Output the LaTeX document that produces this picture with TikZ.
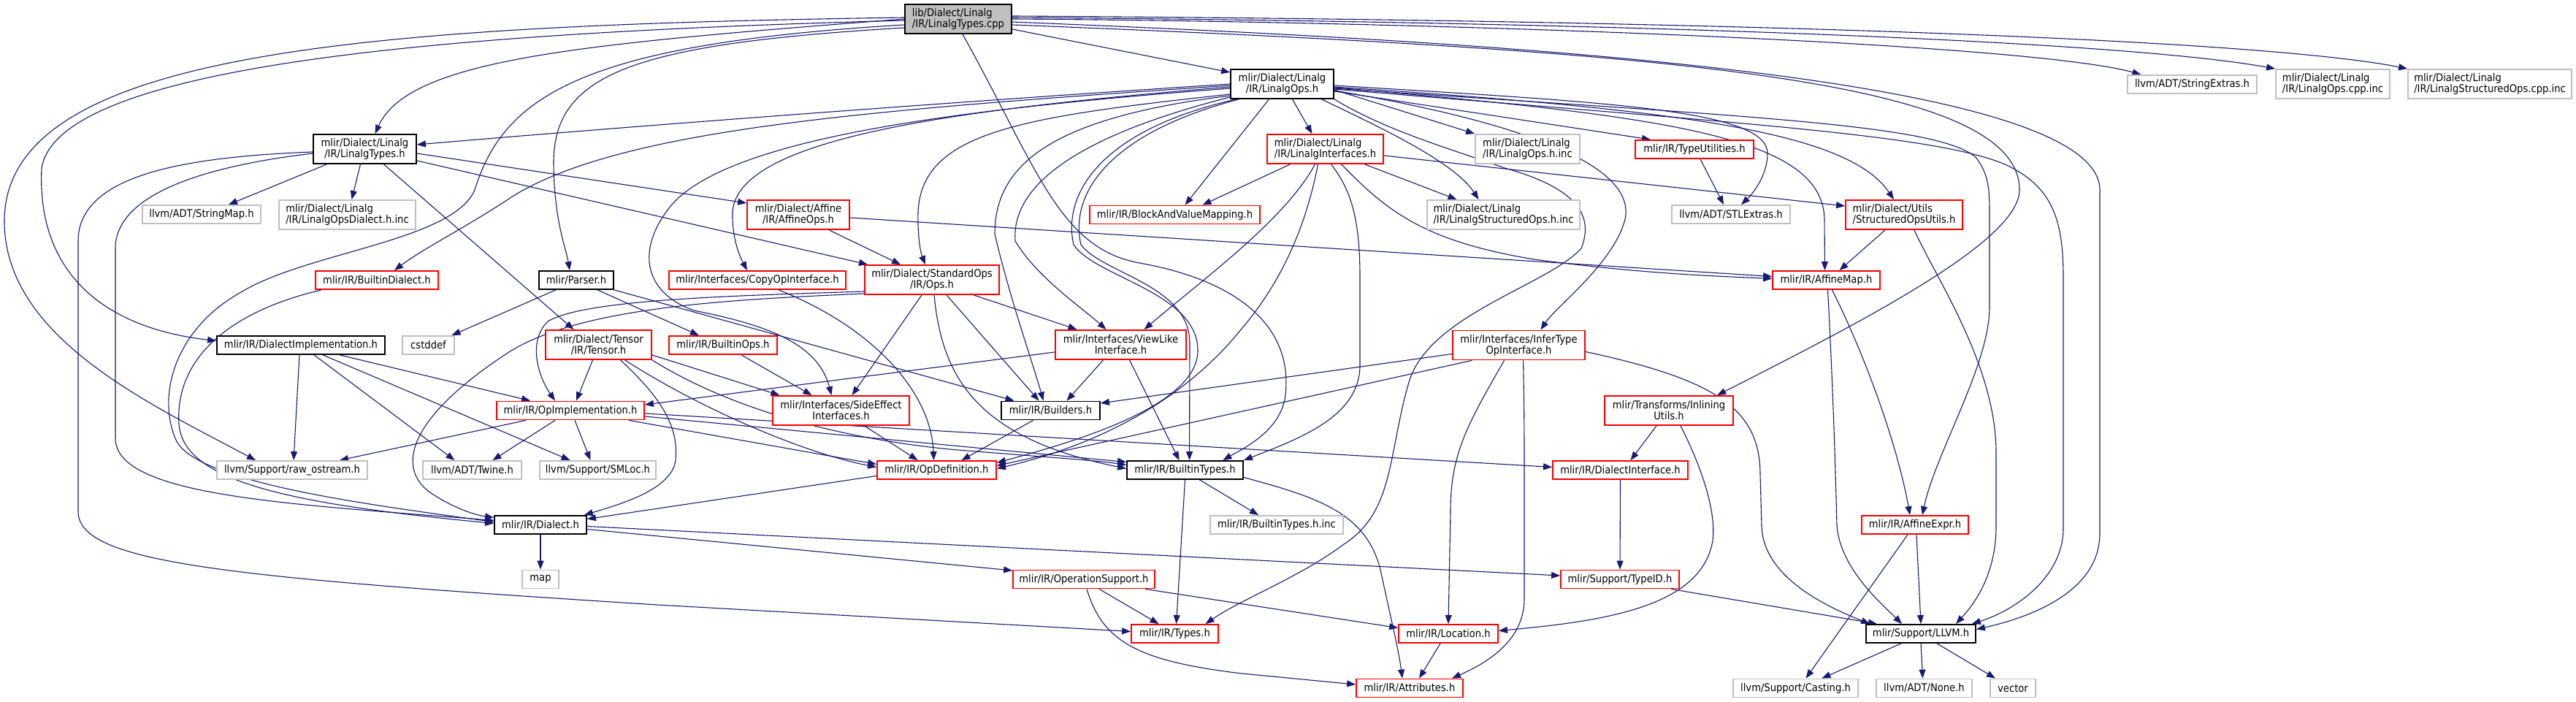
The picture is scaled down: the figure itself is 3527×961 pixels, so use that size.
\documentclass[tikz,border=0pt]{standalone}
\usepackage{fontspec}
\setmainfont{DejaVu Sans Condensed}
\usetikzlibrary{arrows.meta}
\definecolor{edgec}{HTML}{191970}
\definecolor{grayc}{HTML}{BFBFBF}
\definecolor{redc}{HTML}{FF0000}
\pgfdeclarelayer{bg}
\pgfsetlayers{bg,main}
\begin{document}
\begin{tikzpicture}[x=0.5pt,y=-0.5pt,
  nb/.style={draw, line width=0.9pt, inner sep=0pt, align=center, fill=white, font=\fontsize{7.3}{7.5}\selectfont},
  sz/.style 2 args={minimum width=#1pt, minimum height=#2pt},
  rednode/.style={nb, draw=redc},
  graynode/.style={nb, draw=grayc},
  blacknode/.style={nb, draw=black},
  rootnode/.style={nb, draw=black, fill=grayc},
  e/.style={draw=edgec, line width=0.55pt, -{Triangle[length=6pt,width=4.5pt]}}]
\useasboundingbox (0,0) rectangle (3527,961);
% nodes
\node[rootnode, align=left, sz={73}{20}] (cpp) at (1312,26) {lib/Dialect/Linalg\\/IR/LinalgTypes.cpp};
\node[blacknode, sz={70.5}{20}] (ops) at (1755.5,115) {mlir/Dialect/Linalg\\/IR/LinalgOps.h};
\node[graynode, sz={88.5}{12.5}] (strext) at (3001.5,115.5) {llvm/ADT/StringExtras.h};
\node[graynode, align=left, sz={78}{20}] (opscppinc) at (3194,115) {mlir/Dialect/Linalg\\/IR/LinalgOps.cpp.inc};
\node[graynode, align=left, sz={112}{20}] (structcppinc) at (3409,115) {mlir/Dialect/Linalg\\/IR/LinalgStructuredOps.cpp.inc};
\node[blacknode, sz={70.5}{20}] (types) at (499.5,204) {mlir/Dialect/Linalg\\/IR/LinalgTypes.h};
\node[rednode, align=left, sz={79.5}{20}] (interfaces) at (1814.5,204) {mlir/Dialect/Linalg\\/IR/LinalgInterfaces.h};
\node[graynode, align=left, sz={71.5}{20}] (opsinc) at (2091.5,204) {mlir/Dialect/Linalg\\/IR/LinalgOps.h.inc};
\node[rednode, sz={81}{12.5}] (typeutil) at (2320,204.5) {mlir/IR/TypeUtilities.h};
\node[graynode, sz={81}{12.5}] (stringmap) at (276,293.5) {llvm/ADT/StringMap.h};
\node[graynode, align=left, sz={93.5}{20}] (dialectinc) at (475.5,294) {mlir/Dialect/Linalg\\/IR/LinalgOpsDialect.h.inc};
\node[rednode, sz={70}{20}] (affineops) at (1093,294) {mlir/Dialect/Affine\\/IR/AffineOps.h};
\node[rednode, sz={116.5}{12.5}] (bvm) at (1608.5,294) {mlir/IR/BlockAndValueMapping.h};
\node[graynode, align=left, sz={104.5}{20}] (structinc) at (2058.5,294) {mlir/Dialect/Linalg\\/IR/LinalgStructuredOps.h.inc};
\node[graynode, sz={81}{12.5}] (stlextras) at (2370,293.5) {llvm/ADT/STLExtras.h};
\node[rednode, align=left, sz={80}{20}] (soutils) at (2607,294) {mlir/Dialect/Utils\\/StructuredOpsUtils.h};
\node[rednode, sz={84}{12.5}] (builtindialect) at (516,383.5) {mlir/IR/BuiltinDialect.h};
\node[blacknode, sz={51}{12.5}] (parser) at (789,383.5) {mlir/Parser.h};
\node[rednode, sz={121}{12.5}] (copyop) at (1037,383.5) {mlir/Interfaces/CopyOpInterface.h};
\node[rednode, sz={92}{20}] (stdops) at (1276,383) {mlir/Dialect/StandardOps\\/IR/Ops.h};
\node[rednode, sz={73.5}{12.5}] (affinemap) at (2500.5,383.5) {mlir/IR/AffineMap.h};
\node[blacknode, sz={115}{12.5}] (dialectimpl) at (412,472.5) {mlir/IR/DialectImplementation.h};
\node[graynode, sz={35.5}{12.5}] (cstddef) at (586.5,472.5) {cstddef};
\node[rednode, sz={72.5}{20}] (tensor) at (819.5,472) {mlir/Dialect/Tensor\\/IR/Tensor.h};
\node[rednode, sz={74}{12.5}] (builtinops) at (990,472.5) {mlir/IR/BuiltinOps.h};
\node[rednode, sz={89.5}{20}] (viewlike) at (1534.5,472) {mlir/Interfaces/ViewLike\\Interface.h};
\node[rednode, sz={90.5}{20}] (infertype) at (2079.5,472.5) {mlir/Interfaces/InferType\\OpInterface.h};
\node[rednode, sz={101}{12.5}] (opimpl) at (781,562) {mlir/IR/OpImplementation.h};
\node[rednode, sz={93.5}{20}] (sideeffect) at (1151.5,562) {mlir/Interfaces/SideEffect\\Interfaces.h};
\node[blacknode, sz={67.5}{12.5}] (builders) at (1438.5,562) {mlir/IR/Builders.h};
\node[rednode, sz={88}{20}] (inlining) at (2285,562) {mlir/Transforms/Inlining\\Utils.h};
\node[graynode, sz={103}{12.5}] (rawostream) at (400,643.5) {llvm/Support/raw\_ostream.h};
\node[graynode, sz={67.5}{12.5}] (twine) at (646.5,643.5) {llvm/ADT/Twine.h};
\node[graynode, sz={79.5}{12.5}] (smloc) at (818.5,643.5) {llvm/Support/SMLoc.h};
\node[rednode, sz={81.5}{12.5}] (opdef) at (1282.5,643.5) {mlir/IR/OpDefinition.h};
\node[blacknode, sz={79.5}{12.5}] (builtintypes) at (1622.5,643.5) {mlir/IR/BuiltinTypes.h};
\node[rednode, sz={92.5}{12.5}] (dialectiface) at (2218.5,643.5) {mlir/IR/DialectInterface.h};
\node[blacknode, sz={63}{12.5}] (dialect) at (740,718.5) {mlir/IR/Dialect.h};
\node[graynode, sz={91}{12.5}] (builtintypesinc) at (1748,718.5) {mlir/IR/BuiltinTypes.h.inc};
\node[rednode, sz={73}{12.5}] (affineexpr) at (2622,718.5) {mlir/IR/AffineExpr.h};
\node[graynode, sz={25}{12.5}] (map) at (740,793) {map};
\node[rednode, sz={97}{12.5}] (opsupport) at (1484,793) {mlir/IR/OperationSupport.h};
\node[rednode, sz={81}{12.5}] (typeid) at (2218,793) {mlir/Support/TypeID.h};
\node[rednode, sz={59.5}{12.5}] (typesh) at (1608.5,867.5) {mlir/IR/Types.h};
\node[rednode, sz={68}{12.5}] (location) at (1983,867.5) {mlir/IR/Location.h};
\node[blacknode, sz={75}{12.5}] (llvm) at (2630,867.5) {mlir/Support/LLVM.h};
\node[rednode, sz={73}{12.5}] (attributes) at (1930,942) {mlir/IR/Attributes.h};
\node[graynode, sz={85.5}{12.5}] (casting) at (2458.5,942) {llvm/Support/Casting.h};
\node[graynode, sz={65.5}{12.5}] (none) at (2634.5,942) {llvm/ADT/None.h};
\node[graynode, sz={31}{12.5}] (vector) at (2756,942) {vector};
\begin{pgfonlayer}{bg}
\fill[white] (0,0) rectangle (3527,961);
% from LinalgTypes.cpp
\draw[e] (cpp.west) .. controls (800,60) and (560,80) .. ([xshift=7pt]types.north);
\draw[e] ([yshift=-1pt]cpp.west) .. controls (600,45) and (80,90) .. (57,230) .. controls (50,380) and (150,450) .. ([yshift=3pt]dialectimpl.west);
\draw[e] ([yshift=1pt]cpp.west) .. controls (500,35) and (10,70) .. (6,300) .. controls (4,460) and (200,550) .. ([xshift=-25pt]rawostream.north);
\draw[e] ([yshift=-6pt]cpp.west) .. controls (870,60) and (760,100) .. (758,220) .. controls (758,300) and (775,340) .. ([xshift=-4.5pt]parser.north);
\draw[e] ([yshift=-4pt]cpp.west) .. controls (800,60) and (690,130) .. (650,260) .. controls (620,330) and (420,345) .. (330,400) .. controls (240,450) and (215,540) .. (240,600) .. controls (262,660) and (500,690) .. ([yshift=2pt]dialect.west);
\draw[e] ([yshift=-7pt]cpp.east) -- ([yshift=8pt]ops.west);
\draw[e] ([xshift=3pt]cpp.south) .. controls (1420,230) and (1450,340) .. (1560,360) .. controls (1700,385) and (1770,450) .. (1760,540) .. controls (1755,590) and (1700,615) .. ([xshift=26pt]builtintypes.north);
\draw[e] ([yshift=-2pt]cpp.east) .. controls (2000,55) and (2875,100) .. (2875,260) -- (2875,730) .. controls (2875,810) and (2780,845) .. ([yshift=3pt]llvm.east);
\draw[e] ([yshift=-4pt]cpp.east) .. controls (2300,70) and (2765,110) .. (2765,260) .. controls (2765,330) and (2550,440) .. ([xshift=33pt]inlining.north);
\draw[e] (cpp.east) .. controls (2000,30) and (2780,60) .. ([xshift=-35pt]strext.north);
\draw[e] ([yshift=1pt]cpp.east) .. controls (2200,30) and (2900,55) .. (opscppinc.north west);
\draw[e] ([yshift=2pt]cpp.east) .. controls (2400,28) and (3100,55) .. (structcppinc.north west);
% from LinalgOps.h
\draw[e] (ops.west) .. controls (1300,140) and (900,170) .. ([yshift=3pt]types.east);
\draw[e] ([yshift=-1pt]ops.west) .. controls (1200,150) and (850,175) .. (700,270) .. controls (640,310) and (580,340) .. ([xshift=12pt]builtindialect.north);
\draw[e] ([yshift=-2pt]ops.west) .. controls (1300,150) and (1010,190) .. (1003,290) .. controls (1002,330) and (1015,355) .. ([xshift=-7pt]copyop.north);
\draw[e] ([yshift=-3pt]ops.west) .. controls (1300,150) and (1000,190) .. (920,280) .. controls (870,340) and (880,400) .. (950,425) .. controls (1050,445) and (1120,470) .. ([xshift=-6.5pt]sideeffect.north);
\draw[e] ([yshift=-7pt]ops.west) .. controls (1400,160) and (1262,180) .. (1257,290) .. controls (1256,330) and (1262,350) .. ([xshift=-4.5pt]stdops.north);
\draw[e] ([yshift=-8pt]ops.west) .. controls (1450,160) and (1362,220) .. (1362,320) .. controls (1380,400) and (1415,500) .. ([xshift=-5pt]builders.north);
\draw[e] ([yshift=-9pt]ops.west) .. controls (1460,190) and (1385,260) .. (1390,330) .. controls (1420,380) and (1480,420) .. ([xshift=-10pt]viewlike.north);
\draw[e] ([xshift=4pt]ops.south west) .. controls (1500,180) and (1455,270) .. (1470,335) .. controls (1500,380) and (1640,400) .. (1640,480) .. controls (1640,560) and (1450,610) .. ([yshift=5pt]opdef.east);
\draw[e] ([xshift=6pt]ops.south west) .. controls (1510,185) and (1465,270) .. (1480,335) .. controls (1510,375) and (1629,390) .. (1629,470) -- ([xshift=3pt]builtintypes.north);
\draw[e] ([xshift=-9pt]ops.south) -- ([xshift=7pt]bvm.north);
\draw[e] ([xshift=7pt]ops.south) -- ([xshift=-9pt]interfaces.north);
\draw[e] ([xshift=27pt]ops.south) .. controls (1880,170) and (1990,220) .. ([xshift=-17pt]structinc.north);
\draw[e] ([yshift=-4pt]ops.east) -- (opsinc.north west);
\draw[e] ([yshift=-5pt]ops.east) -- ([xshift=-30pt]typeutil.north);
\draw[e] ([yshift=-1pt]ops.east) .. controls (2200,140) and (2420,150) .. (2420,210) .. controls (2420,240) and (2400,265) .. ([xshift=7pt]stlextras.north);
\draw[e] ([yshift=-2pt]ops.east) .. controls (2300,150) and (2530,180) .. ([xshift=-7pt]soutils.north);
\draw[e] ([yshift=-2.5pt]ops.east) .. controls (2300,160) and (2495,190) .. (2498,300) -- ([xshift=-1pt]affinemap.north);
\draw[e] ([yshift=-3pt]ops.east) .. controls (2400,160) and (2650,170) .. (2705,215) .. controls (2724,240) and (2724,260) .. (2724,300) -- (2724,420) .. controls (2724,500) and (2650,620) .. ([xshift=5pt]affineexpr.north);
\draw[e] ([yshift=-3.5pt]ops.east) .. controls (2400,170) and (2650,185) .. (2745,225) .. controls (2810,255) and (2825,300) .. (2825,380) -- (2825,723) .. controls (2825,790) and (2760,835) .. ([xshift=-3pt]llvm.north east);
\draw[e] ([yshift=-4.5pt]ops.east) .. controls (2100,170) and (2240,230) .. (2225,300) .. controls (2210,360) and (2130,420) .. ([xshift=15pt]infertype.north);
\draw[e] (ops.south east) .. controls (1900,180) and (1990,205) .. (2060,230) .. controls (2150,255) and (2185,290) .. (2165,340) .. controls (2120,390) and (1960,430) .. (1930,520) .. controls (1900,620) and (1910,700) .. (1840,745) .. controls (1780,790) and (1700,820) .. ([xshift=21pt]typesh.north);
% from LinalgTypes.h
\draw[e] ([xshift=-26pt]types.south) -- ([xshift=18.5pt]stringmap.north);
\draw[e] ([xshift=-3pt]types.south) -- ([xshift=3pt]dialectinc.north);
\draw[e] ([xshift=13pt]types.south) -- ([xshift=-17pt]tensor.north);
\draw[e] ([yshift=-3pt]types.east) -- ([yshift=8pt]affineops.west);
\draw[e] ([yshift=-8pt]types.east) -- ([xshift=-44pt]stdops.north);
\draw[e] ([yshift=-3pt]types.west) .. controls (300,225) and (158,260) .. (158,340) -- (158,600) .. controls (158,680) and (400,690) .. ([yshift=3pt]dialect.west);
\draw[e] ([yshift=-2pt]types.west) .. controls (250,215) and (107,240) .. (107,330) -- (107,700) .. controls (107,770) and (300,790) .. (900,828) -- ([yshift=1.5pt]typesh.west);
% AffineOps
\draw[e] ([xshift=21pt]affineops.south) -- ([xshift=-21.5pt]stdops.north);
\draw[e] ([yshift=-2pt]affineops.east) -- ([yshift=2.5pt]affinemap.west);
% LinalgInterfaces
\draw[e] ([xshift=-24pt]interfaces.south) -- ([xshift=19pt]bvm.north);
\draw[e] ([xshift=27pt]interfaces.south) -- ([xshift=-32pt]structinc.north);
\draw[e] ([yshift=-4.5pt]interfaces.east) -- ([yshift=6pt]soutils.west);
\draw[e] ([xshift=11pt]interfaces.south) .. controls (1900,290) and (1950,330) .. (2100,355) .. controls (2250,375) and (2350,378) .. ([yshift=1pt]affinemap.west);
\draw[e] ([xshift=-7pt]interfaces.south) .. controls (1760,300) and (1650,380) .. ([xshift=16pt]viewlike.north);
\draw[e] ([xshift=-5pt]interfaces.south) .. controls (1790,300) and (1760,380) .. (1700,450) .. controls (1620,550) and (1500,610) .. ([yshift=1pt]opdef.east);
\draw[e] ([xshift=4pt]interfaces.south) .. controls (1850,260) and (1862,300) .. (1862,380) -- (1862,500) .. controls (1862,570) and (1780,600) .. (builtintypes.north east);
% misc upper
\draw[e] ([xshift=4pt]typeutil.south) -- ([xshift=-5pt]stlextras.north);
\draw[e] ([xshift=-13pt]soutils.south) -- ([xshift=9pt]affinemap.north);
\draw[e] ([xshift=7pt]soutils.south) .. controls (2650,380) and (2733,500) .. (2733,620) -- (2733,720) .. controls (2733,790) and (2700,830) .. ([xshift=24pt]llvm.north);
\draw[e] ([xshift=1pt]affinemap.south) .. controls (2508,500) and (2512,600) .. (2515,720) .. controls (2520,780) and (2580,830) .. ([xshift=-13pt]llvm.north);
\draw[e] ([xshift=4pt]affinemap.south) .. controls (2560,500) and (2600,620) .. ([xshift=-3.5pt]affineexpr.north);
\draw[e] ([xshift=-5pt]affineexpr.south) -- ([xshift=7pt]casting.north);
\draw[e] ([xshift=1pt]affineexpr.south) -- (llvm.north);
\draw[e] ([xshift=-13.5pt]llvm.south) -- ([xshift=18pt]casting.north);
\draw[e] (llvm.south) -- ([xshift=-1pt]none.north);
\draw[e] ([xshift=11pt]llvm.south) -- ([xshift=-12pt]vector.north);
% InferType
\draw[e] ([yshift=-4.5pt]infertype.east) .. controls (2350,520) and (2410,560) .. (2410,650) -- (2412,720) .. controls (2414,790) and (2500,830) .. ([xshift=3pt]llvm.north west);
\draw[e] ([xshift=-10pt]infertype.south) .. controls (2010,580) and (1986,620) .. (1986,700) -- (location.north);
\draw[e] ([xshift=3pt]infertype.south) .. controls (2087,560) and (2087,600) .. (2087,650) -- (2087,820) .. controls (2087,880) and (2030,910) .. ([xshift=29pt]attributes.north);
\draw[e] ([yshift=-6pt]infertype.west) -- ([yshift=5pt]builders.east);
\draw[e] ([xshift=-32pt]infertype.south) -- ([yshift=3pt]opdef.east);
% Inlining etc
\draw[e] ([xshift=-8.5pt]inlining.south) -- ([xshift=7pt]dialectiface.north);
\draw[e] ([xshift=8pt]inlining.south) .. controls (2330,640) and (2350,700) .. (2345,740) .. controls (2330,830) and (2200,850) .. ([yshift=2pt]location.east);
\draw[e] (dialectiface.south) -- (typeid.north);
\draw[e] ([xshift=35pt]typeid.south) -- ([xshift=-30pt]llvm.north);
\draw[e] ([xshift=-5.5pt]location.south) -- ([xshift=6.5pt]attributes.north);
% OperationSupport
\draw[e] ([xshift=10.5pt]opsupport.south) -- ([xshift=-11pt]typesh.north);
\draw[e] ([xshift=42pt]opsupport.south) -- ([yshift=4pt]location.west);
\draw[e] ([xshift=2pt]opsupport.south) .. controls (1510,880) and (1560,905) .. (1700,922) -- ([yshift=2.5pt]attributes.west);
% BuiltinTypes
\draw[e] ([xshift=10pt]builtintypes.south) -- ([xshift=-12.5pt]builtintypesinc.north);
\draw[e] (builtintypes.south) -- ([xshift=1pt]typesh.north);
\draw[e] ([yshift=-5pt]builtintypes.east) .. controls (1800,680) and (1870,700) .. (1890,780) .. controls (1905,850) and (1915,890) .. ([xshift=-5pt]attributes.north);
% Dialect
\draw[e] (dialect.south) -- (map.north);
\draw[e] ([yshift=-3pt]dialect.east) -- ([yshift=6pt]opsupport.west);
\draw[e] ([yshift=-1pt]dialect.east) -- ([yshift=2.5pt]typeid.west);
\draw[e] ([yshift=-4pt]opdef.west) -- ([yshift=4pt]dialect.east);
% Tensor
\draw[e] ([xshift=-4pt]tensor.south) -- ([xshift=4pt]opimpl.north);
\draw[e] ([xshift=15pt]tensor.south) .. controls (900,540) and (930,580) .. (925,630) .. controls (920,670) and (850,690) .. ([xshift=-2pt]dialect.north east);
\draw[e] ([yshift=-7pt]tensor.east) -- ([xshift=-42pt]sideeffect.north);
\draw[e] ([xshift=18pt]tensor.south) .. controls (960,560) and (1100,620) .. ([yshift=2pt]opdef.west);
\draw[e] (tensor.south east) .. controls (1000,560) and (1150,600) .. (1300,615) .. controls (1420,625) and (1500,630) .. ([yshift=3.5pt]builtintypes.west);
% OpImplementation
\draw[e] ([xshift=-30.5pt]opimpl.south) -- ([xshift=32.5pt]rawostream.north);
\draw[e] ([xshift=-10.5pt]opimpl.south) -- ([xshift=14pt]twine.north);
\draw[e] ([xshift=3pt]opimpl.south) -- ([xshift=-5pt]smloc.north);
\draw[e] ([xshift=40pt]opimpl.south) -- ([yshift=4pt]opdef.west);
\draw[e] ([yshift=-4pt]opimpl.east) -- ([yshift=5.5pt]builtintypes.west);
\draw[e] ([yshift=-2pt]opimpl.east) -- ([yshift=2pt]dialectiface.west);
% DialectImplementation
\draw[e] ([xshift=26.5pt]dialectimpl.south) -- ([xshift=-27.5pt]opimpl.north);
\draw[e] ([xshift=-1pt]dialectimpl.south) -- ([xshift=1pt]rawostream.north);
\draw[e] ([xshift=9pt]dialectimpl.south) -- ([xshift=-12pt]twine.north);
\draw[e] ([xshift=15pt]dialectimpl.south) -- ([xshift=-19pt]smloc.north);
% BuiltinDialect, Parser, BuiltinOps, CopyOp
\draw[e] ([xshift=-38pt]builtindialect.south) .. controls (300,430) and (240,500) .. (245,580) .. controls (250,660) and (400,690) .. ([yshift=1pt]dialect.west);
\draw[e] ([xshift=-14pt]parser.south) -- ([xshift=16pt]cstddef.north);
\draw[e] ([xshift=14.5pt]parser.south) -- ([xshift=-16.5pt]builtinops.north);
\draw[e] (parser.south east) -- ([xshift=-25pt]builders.north);
\draw[e] ([xshift=12.5pt]builtinops.south) -- ([xshift=-20pt]sideeffect.north);
\draw[e] ([xshift=14.5pt]copyop.south) .. controls (1200,450) and (1275,540) .. ([xshift=-2pt]opdef.north);
% StandardOps
\draw[e] ([yshift=-8pt]stdops.west) .. controls (1000,405) and (800,410) .. (750,440) .. controls (720,470) and (740,520) .. ([xshift=-10.5pt]opimpl.north);
\draw[e] ([yshift=-9.5pt]stdops.west) .. controls (1000,410) and (800,420) .. (700,480) .. controls (560,570) and (540,640) .. (590,675) .. controls (620,695) and (650,705) .. ([yshift=5pt]dialect.west);
\draw[e] ([xshift=-7pt]stdops.south) -- ([xshift=7.5pt]sideeffect.north);
\draw[e] ([xshift=10pt]stdops.south) -- ([xshift=-8pt]builders.north);
\draw[e] ([xshift=28.5pt]stdops.south) -- ([xshift=-30pt]viewlike.north);
\draw[e] ([xshift=1.5pt]stdops.south) .. controls (1290,520) and (1340,600) .. ([yshift=1pt]builtintypes.west);
% ViewLike, SideEffect, Builders
\draw[e] ([xshift=-12pt]viewlike.south) -- ([xshift=11pt]builders.north);
\draw[e] ([xshift=6pt]viewlike.south) -- ([xshift=-4pt]builtintypes.north);
\draw[e] ([yshift=-5pt]viewlike.west) -- ([yshift=4pt]opimpl.east);
\draw[e] ([xshift=16pt]sideeffect.south) -- ([xshift=-13pt]opdef.north);
\draw[e] ([xshift=-12pt]builders.south) -- ([xshift=17pt]opdef.north);
\end{pgfonlayer}
\end{tikzpicture}
\end{document}
